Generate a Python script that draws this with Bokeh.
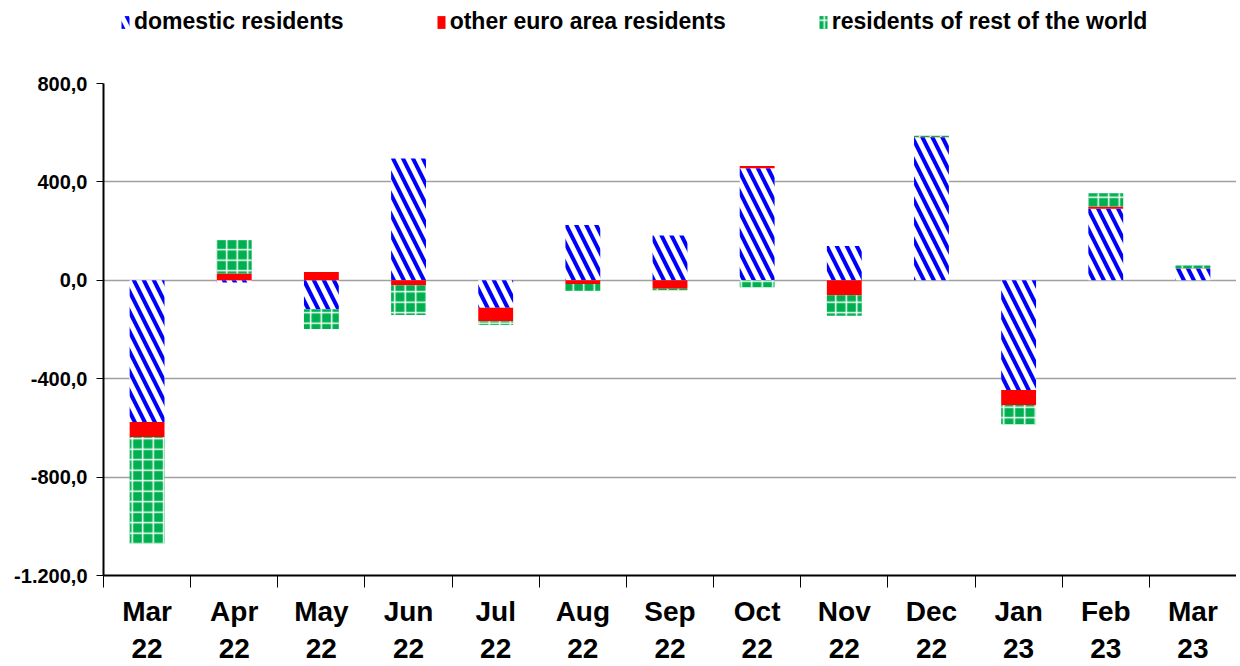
from bokeh.plotting import figure
from bokeh.layouts import column
from bokeh.models import Range1d, FixedTicker, ColumnDataSource, Legend, LegendItem
from bokeh.embed import file_html
from bokeh.resources import INLINE

months = ["Mar\n22", "Apr\n22", "May\n22", "Jun\n22", "Jul\n22", "Aug\n22", "Sep\n22",
          "Oct\n22", "Nov\n22", "Dec\n22", "Jan\n23", "Feb\n23", "Mar\n23"]
domestic = [-576, -9, -118, 495, -112, 225, 182, 455, 139, 582, -446, 291, 48]
other_euro = [-61, 28, 34, -20, -54, -15, -34, 10, -61, 1, -61, 9, 1]
rest_world = [-434, 136, -80, -121, -16, -29, -6, -28, -83, 5, -78, 54, 11]
series_names = ["domestic residents", "other euro area residents", "residents of rest of the world"]
y_ticks = [-1200, -800, -400, 0, 400, 800]
y_labels = ["-1.200,0", "-800,0", "-400,0", "0,0", "400,0", "800,0"]

FONT = "Liberation Sans"
W = 1236
LEG_H = 44

styles = [
    dict(fill_color="white", hatch_pattern="\\", hatch_color="#0000FF", hatch_scale=20, hatch_weight=4),
    dict(fill_color="#FF0000"),
    dict(fill_color="#00B050", hatch_pattern="+", hatch_color="white", hatch_scale=10.5, hatch_weight=1.5),
]

# ---- main chart
p = figure(width=W, height=666 - LEG_H, output_backend="svg", toolbar_location=None,
           x_range=Range1d(0, len(months)), y_range=Range1d(-1200, 800),
           min_border_left=103, min_border_right=0, min_border_top=83 - LEG_H, min_border_bottom=88)
p.outline_line_color = None
p.background_fill_color = "white"

pos_base = [0.0] * len(months)
neg_base = [0.0] * len(months)
xs = [i + 0.5 for i in range(len(months))]
for vals, st in zip([domestic, other_euro, rest_world], styles):
    bottoms, tops = [], []
    for i, v in enumerate(vals):
        if v >= 0:
            bottoms.append(pos_base[i]); tops.append(pos_base[i] + v); pos_base[i] += v
        else:
            tops.append(neg_base[i]); bottoms.append(neg_base[i] + v); neg_base[i] += v
    src = ColumnDataSource(dict(x=xs, top=tops, bottom=bottoms))
    p.vbar(x="x", top="top", bottom="bottom", width=0.4, source=src, line_color=None, **st)

p.yaxis.ticker = FixedTicker(ticks=y_ticks)
p.yaxis.major_label_overrides = {t: l for t, l in zip(y_ticks, y_labels)}
p.yaxis.major_label_text_font = FONT
p.yaxis.major_label_text_font_style = "bold"
p.yaxis.major_label_text_font_size = "20px"
p.yaxis.major_label_text_color = "black"
p.yaxis.axis_line_color = "black"
p.yaxis.axis_line_width = 2
p.yaxis.major_tick_out = 7
p.yaxis.major_tick_in = 0
p.yaxis.major_tick_line_color = "black"
p.yaxis.minor_tick_line_color = None
p.yaxis.major_label_standoff = 9

p.xaxis.ticker = FixedTicker(ticks=xs, minor_ticks=list(range(len(months) + 1)))
p.xaxis.major_label_overrides = {x: m for x, m in zip(xs, months)}
p.xaxis.major_label_text_font = FONT
p.xaxis.major_label_text_font_style = "bold"
p.xaxis.major_label_text_font_size = "28px"
p.xaxis.major_label_text_color = "black"
p.xaxis.major_tick_line_color = None
p.xaxis.major_tick_out = 0
p.xaxis.major_tick_in = 0
p.xaxis.minor_tick_line_color = "black"
p.xaxis.minor_tick_out = 12
p.xaxis.minor_tick_in = 0
p.xaxis.axis_line_color = "black"
p.xaxis.axis_line_width = 2
p.xaxis.major_label_standoff = 8

p.xgrid.grid_line_color = None
p.ygrid.ticker = FixedTicker(ticks=y_ticks[1:])
p.ygrid.grid_line_color = "#A0A0A0"
p.ygrid.grid_line_width = 1.5

# ---- legend strip (proxy glyphs lie outside the visible range)
lg = figure(width=W, height=LEG_H, output_backend="svg", toolbar_location=None,
            x_range=Range1d(0, 1), y_range=Range1d(0, 1),
            min_border_left=0, min_border_right=0, min_border_top=0, min_border_bottom=0,
            x_axis_location=None, y_axis_location=None)
lg.outline_line_color = None
lg.grid.visible = False
items = []
for name, st in zip(series_names, styles):
    r = lg.vbar(x=[-5], top=[-5], bottom=[-6], width=0.1, line_color=None, **st)
    items.append(LegendItem(label=name, renderers=[r]))
legend = Legend(items=items, orientation="horizontal", location=(17, 9),
                glyph_width=10, glyph_height=16, label_standoff=4, spacing=92,
                padding=0, margin=0, border_line_color=None, background_fill_alpha=0,
                label_text_font=FONT, label_text_font_style="bold", label_text_font_size="23px",
                label_text_color="black", label_height=23)
lg.add_layout(legend, "center")

layout = column(lg, p, spacing=0)
open("out.html", "w").write(file_html(layout, INLINE))
